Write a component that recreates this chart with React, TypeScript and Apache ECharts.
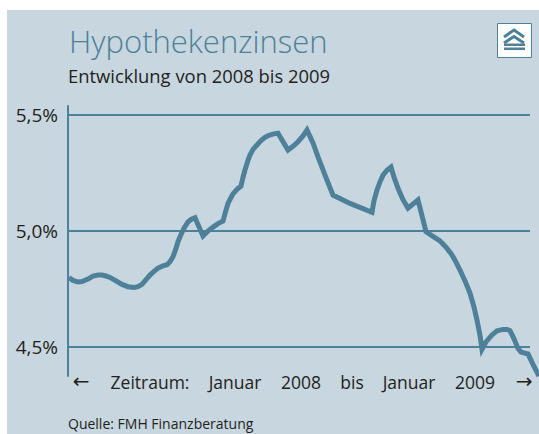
import React, { useEffect, useRef } from "react";
import * as echarts from "echarts";

// Position along the period (days, roughly) and the mortgage rate in percent
const periodDays = [1, 5, 10, 14, 20, 25, 30, 34, 38, 42, 48, 54, 60, 66, 70, 74, 78, 82, 86, 90, 95, 99, 102, 105, 108, 110, 113, 116, 120, 123, 127, 135, 140, 145, 150, 155, 158, 160, 163, 165, 169, 173, 175, 177, 180, 182, 185, 189, 193, 197, 200, 204, 207, 210, 220, 225, 230, 235, 239, 245, 250, 258, 265, 282, 304, 306, 309, 312, 315, 319, 323, 326, 330, 335, 340, 350, 358, 365, 372, 378, 384, 388, 392, 397, 402, 406, 409, 412, 414, 418, 424, 429, 435, 439, 442, 446, 450, 453, 460, 465, 471];
const rates = [4.8, 4.787, 4.78, 4.782, 4.793, 4.806, 4.81, 4.81, 4.806, 4.8, 4.785, 4.77, 4.76, 4.757, 4.76, 4.77, 4.79, 4.81, 4.826, 4.84, 4.85, 4.855, 4.868, 4.889, 4.925, 4.954, 4.985, 5.012, 5.039, 5.05, 5.057, 4.979, 5.0, 5.017, 5.032, 5.043, 5.09, 5.119, 5.145, 5.16, 5.18, 5.194, 5.232, 5.263, 5.305, 5.328, 5.352, 5.371, 5.39, 5.404, 5.411, 5.417, 5.42, 5.422, 5.349, 5.365, 5.385, 5.41, 5.435, 5.38, 5.32, 5.23, 5.155, 5.119, 5.081, 5.13, 5.177, 5.212, 5.241, 5.262, 5.276, 5.232, 5.184, 5.135, 5.098, 5.134, 4.997, 4.977, 4.957, 4.93, 4.897, 4.866, 4.832, 4.785, 4.732, 4.672, 4.616, 4.55, 4.49, 4.522, 4.552, 4.57, 4.576, 4.576, 4.57, 4.535, 4.494, 4.478, 4.47, 4.425, 4.375];
const yTicks = [4.5, 5.0, 5.5];
const gridEnd = 462;

const title = "Hypothekenzinsen";
const subtitle = "Entwicklung von 2008 bis 2009";
const source = "Quelle: FMH Finanzberatung";
const periodLabels = ["Zeitraum:", "Januar", "2008", "bis", "Januar", "2009"];
const periodLabelX = [150, 235, 301, 352, 409, 475];
const arrows = ["←", "→"];
const arrowX = [81, 524];

const BLUE = "#4f8099";
const INK = "#231f20";
const FONT = "'Open Sans', sans-serif";

export default function App() {
  const ref = useRef<HTMLDivElement>(null);
  useEffect(() => {
    document.body.style.margin = "0";
    document.body.style.background = "#fff";
    const chart = echarts.init(ref.current!, undefined, { renderer: "svg" });
    chart.setOption({
      animation: false,
      grid: { left: 68, right: 0, top: 106, height: 270 },
      xAxis: { type: "value", min: 0, max: 471, show: false },
      yAxis: {
        type: "value",
        min: 4.375,
        max: 5.539,
        axisLine: { show: true, lineStyle: { color: BLUE, width: 2 } },
        axisTick: { show: false, customValues: yTicks },
        splitLine: { show: false },
        axisLabel: {
          customValues: yTicks,
          color: INK,
          fontFamily: FONT,
          fontSize: 19,
          margin: 10,
          formatter: (v: number) => v.toFixed(1).replace(".", ",") + "%",
        },
      },
      series: [
        {
          type: "line",
          data: periodDays.map((d, i) => [d, rates[i]]),
          showSymbol: false,
          smooth: false,
          z: 5,
          lineStyle: { color: BLUE, width: 5, join: "miter", miterLimit: 6 },
          markLine: {
            silent: true,
            symbol: "none",
            label: { show: false },
            lineStyle: { color: BLUE, width: 2, type: "solid" },
            data: yTicks.map((v) => [
              { coord: [0, v] },
              { coord: [gridEnd, v] },
            ]),
          },
        },
      ],
      graphic: [
        { type: "rect", z: -10, silent: true, shape: { x: 7, y: 10, width: 532, height: 424 }, style: { fill: "#c7d6df" } },
        { type: "text", x: 69, y: 25, style: { text: title, fill: BLUE, font: `300 31px ${FONT}` } },
        { type: "text", x: 68, y: 66, style: { text: subtitle, fill: INK, font: `400 18.4px ${FONT}` } },
        ...periodLabels.map((t, i) => ({
          type: "text",
          x: periodLabelX[i],
          y: 382,
          style: { text: t, fill: INK, font: `400 17.5px ${FONT}`, align: "center", verticalAlign: "middle" },
        })),
        ...arrows.map((t, i) => ({
          type: "text",
          x: arrowX[i],
          y: 381,
          style: { text: t, fill: INK, font: `400 20px 'DejaVu Sans'`, align: "center", verticalAlign: "middle" },
        })),
        { type: "text", x: 68, y: 416, style: { text: source, fill: INK, font: `400 14px ${FONT}` } },
        { type: "rect", shape: { x: 497.5, y: 23.5, width: 34, height: 34 }, style: { fill: "#fff", stroke: BLUE, lineWidth: 1 } },
        { type: "polyline", shape: { points: [[504, 37], [514, 30], [524, 37]] }, style: { fill: "none", stroke: BLUE, lineWidth: 3 } },
        { type: "polyline", shape: { points: [[504, 43], [514, 36.5], [524, 43]] }, style: { fill: "none", stroke: BLUE, lineWidth: 3 } },
        { type: "rect", shape: { x: 504, y: 43.5, width: 21, height: 2.5 }, style: { fill: BLUE } },
        { type: "rect", shape: { x: 504, y: 47.5, width: 21, height: 2.5 }, style: { fill: BLUE } },
      ],
    });
    return () => chart.dispose();
  }, []);
  return <div ref={ref} style={{ width: 539, height: 434 }} />;
}
